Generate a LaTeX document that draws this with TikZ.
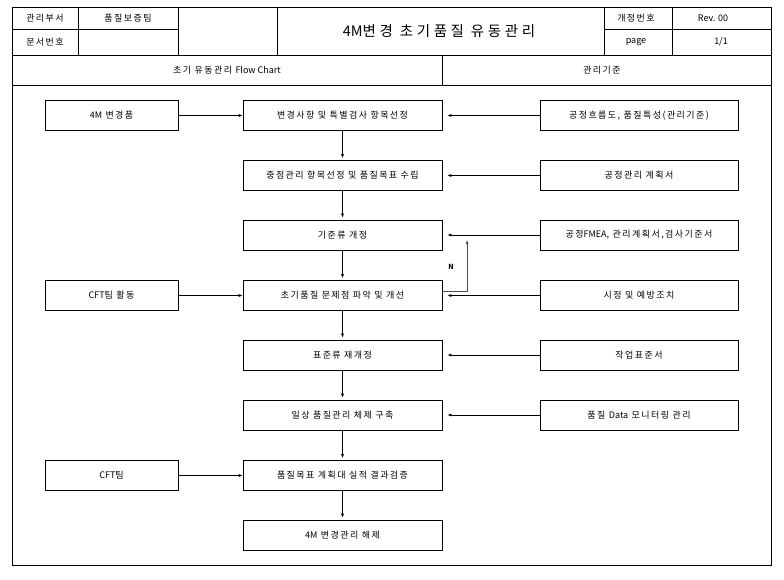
\documentclass[tikz,border=0pt]{standalone}
\usepackage{fontspec}
\setmainfont{Noto Sans CJK KR}[LetterSpace=16]
\newfontfamily\latnfont{Noto Sans CJK KR}
\newcommand\latn[1]{{\latnfont #1}}
\usetikzlibrary{arrows.meta}

\begin{document}
\begin{tikzpicture}
            [x=1pt,y=-1pt,line width=.7pt,>={Latex[length=4pt,width=3pt]},
             every node/.style={font=\fontsize{9}{10}\selectfont,inner sep=0pt},
             cbox/.style={draw,minimum width=199pt,minimum height=30pt},
             lbox/.style={draw,minimum width=133pt,minimum height=30pt},
             rbox/.style={draw,minimum width=198pt,minimum height=30pt}]
            \useasboundingbox (0,0) rectangle (784,579);
            % header
            \draw (12,7) rectangle (771,565);
            \draw (12,55) -- (771,55);
            \draw (12,85) -- (771,85);
            \draw (12,29) -- (178,29);
            \draw (604,29) -- (771,29);
            \draw (78,7) -- (78,55);
            \draw (178,7) -- (178,55);
            \draw (277,7) -- (277,55);
            \draw (604,7) -- (604,55);
            \draw (672,7) -- (672,55);
            \draw (442,55) -- (442,85);
            \node (dept) at (45,18) {관리부서};
            \node (team) at (128,18) {품질보증팀};
            \node (docno) at (45,42) {문서번호};
            \node[font=\fontsize{14.5}{16}\selectfont\addfontfeature{LetterSpace=25}] (title) at (439,31) {\latn{4M}변경 초기품질 유동관리};
            \node (revno) at (636,18) {개정번호};
            \node (rev) at (713,18) {\latn{Rev. 00}};
            \node (pg) at (636,42) {\latn{page}};
            \node (pgno) at (721,42) {\latn{1/1}};
            \node (flow) at (227,70) {초기 유동관리 \latn{Flow Chart}};
            \node (crit) at (602,70) {관리기준};
            % flow chart
            \node[cbox] (c1) at (342.5,115.5) {변경사항 및 특별검사 항목선정};
            \node[cbox] (c2) at (342.5,175.5) {중점관리 항목선정 및 품질목표 수립};
            \node[cbox] (c3) at (342.5,235) {기준류 개정};
            \node[cbox] (c4) at (342.5,295.5) {초기품질 문제점 파악 및 개선};
            \node[cbox] (c5) at (342.5,355) {표준류 재개정};
            \node[cbox] (c6) at (342.5,415) {일상 품질관리 체제 구축};
            \node[cbox] (c7) at (342.5,475.5) {품질목표 계획대 실적 결과검증};
            \node[cbox] (c8) at (342.5,535) {\latn{4M} 변경관리 해제};
            \node[lbox] (l1) at (111.5,115.5) {\latn{4M} 변경품};
            \node[lbox] (l4) at (111.5,295.5) {\latn{CFT}팀 활동};
            \node[lbox] (l7) at (111.5,475.5) {\latn{CFT}팀};
            \node[rbox] (r1) at (639,115.5) {공정흐름도, 품질특성(관리기준)};
            \node[rbox] (r2) at (639,175.5) {공정관리 계획서};
            \node[rbox] (r3) at (639,235) {공정\latn{FMEA,} 관리계획서,검사기준서};
            \node[rbox] (r4) at (639,295.5) {시정 및 예방조치};
            \node[rbox] (r5) at (639,355) {작업표준서};
            \node[rbox] (r6) at (639,415) {품질 \latn{Data} 모니터링 관리};
            % main flow
            \draw[->,shorten >=2pt] (c1) -- (c2);
            \draw[->,shorten >=2pt] (c2) -- (c3);
            \draw[->,shorten >=2pt] (c3) -- (c4);
            \draw[->,shorten >=2pt] (c4) -- (c5);
            \draw[->,shorten >=2pt] (c5) -- (c6);
            \draw[->,shorten >=2pt] (c6) -- (c7);
            \draw[->,shorten >=2pt] (c7) -- (c8);
            % inputs
            \draw[->] (l1) -- (c1);
            \draw[->] (l4) -- (c4);
            \draw[->] (l7) -- (c7);
            \draw[->,shorten >=5pt] (r1) -- (c1);
            \draw[->,shorten >=5pt] (r2) -- (c2);
            \draw[->,shorten >=5pt] (r3) -- (c3);
            \draw[->,shorten >=5pt] (r4) -- (c4);
            \draw[->,shorten >=5pt] (r5) -- (c5);
            \draw[->,shorten >=5pt] (r6) -- (c6);
            % back loop
            \coordinate (nup) at (467,240);
            \draw[->,black!70] ([yshift=4pt]c4.east) -| (nup);
            \node[font=\fontsize{7}{8}\selectfont\bfseries] (no) at (451,267) {N};
        \end{tikzpicture}
\end{document}
